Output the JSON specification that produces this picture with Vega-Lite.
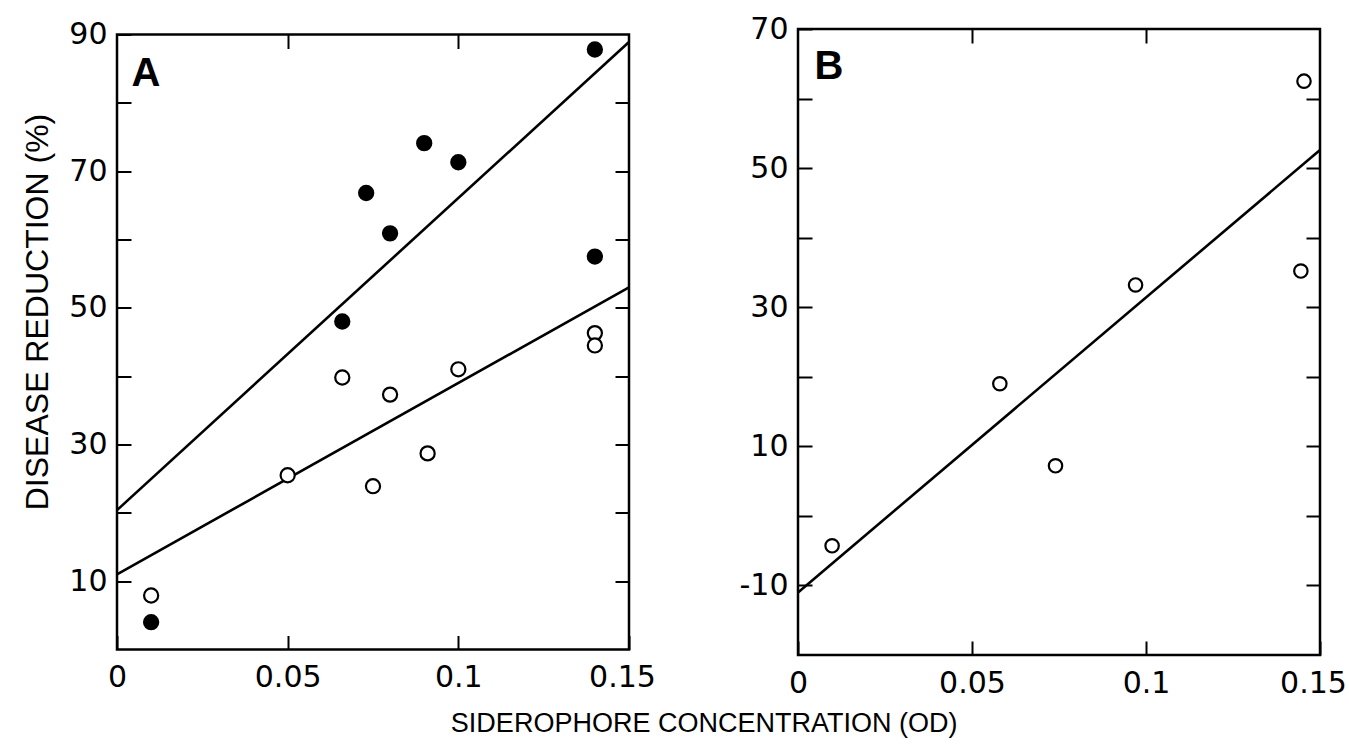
{
  "$schema": "https://vega.github.io/schema/vega-lite/v6.json",
  "background": "white",
  "padding": {"left": 20, "top": 12, "right": 0, "bottom": 8},
  "bounds": "flush",
  "center": true,
  "spacing": 169,
  "title": {"text": "SIDEROPHORE CONCENTRATION (OD)", "orient": "bottom", "anchor": "middle", "font": "Liberation Sans", "fontSize": 27, "fontWeight": "normal", "color": "black", "offset": 12, "dx": 20},
  "datasets": {
    "pointsA": [
      {"od": 0.01, "reduction": 4.0, "treatment": "filled"},
      {"od": 0.066, "reduction": 48.0, "treatment": "filled"},
      {"od": 0.073, "reduction": 66.8, "treatment": "filled"},
      {"od": 0.080, "reduction": 60.9, "treatment": "filled"},
      {"od": 0.090, "reduction": 74.1, "treatment": "filled"},
      {"od": 0.100, "reduction": 71.3, "treatment": "filled"},
      {"od": 0.140, "reduction": 87.8, "treatment": "filled"},
      {"od": 0.140, "reduction": 57.5, "treatment": "filled"},
      {"od": 0.01, "reduction": 7.9, "treatment": "open"},
      {"od": 0.050, "reduction": 25.5, "treatment": "open"},
      {"od": 0.066, "reduction": 39.8, "treatment": "open"},
      {"od": 0.075, "reduction": 23.9, "treatment": "open"},
      {"od": 0.080, "reduction": 37.3, "treatment": "open"},
      {"od": 0.091, "reduction": 28.7, "treatment": "open"},
      {"od": 0.100, "reduction": 41.0, "treatment": "open"},
      {"od": 0.140, "reduction": 46.3, "treatment": "open"},
      {"od": 0.140, "reduction": 44.5, "treatment": "open"}
    ],
    "linesA": [
      {"od": 0, "reduction": 20.4, "line": "filled"},
      {"od": 0.15, "reduction": 88.9, "line": "filled"},
      {"od": 0, "reduction": 11.0, "line": "open"},
      {"od": 0.15, "reduction": 53.0, "line": "open"}
    ],
    "pointsB": [
      {"od": 0.0098, "reduction": -4.3, "treatment": "open"},
      {"od": 0.058, "reduction": 19.0, "treatment": "open"},
      {"od": 0.074, "reduction": 7.2, "treatment": "open"},
      {"od": 0.097, "reduction": 33.2, "treatment": "open"},
      {"od": 0.1454, "reduction": 62.5, "treatment": "open"},
      {"od": 0.1445, "reduction": 35.2, "treatment": "open"}
    ],
    "linesB": [
      {"od": 0, "reduction": -11.0, "line": "fit"},
      {"od": 0.15, "reduction": 52.6, "line": "fit"}
    ],
    "panelLabels": [
      {"panel": "A", "od": 0.0085, "reduction": 84.2},
      {"panel": "B", "od": 0.0089, "reduction": 64.5}
    ]
  },
  "config": {
    "view": {"stroke": "black", "strokeWidth": 2.5},
    "axis": {
      "domain": false,
      "grid": false,
      "ticks": true,
      "tickSize": -14,
      "tickWidth": 2,
      "tickColor": "black",
      "labelFont": "DejaVu Sans",
      "labelFontSize": 30,
      "labelColor": "black",
      "labelPadding": 24,
      "labelOverlap": false,
      "labelFlush": false,
      "titleFont": "Liberation Sans",
      "titleFontSize": 32,
      "titleFontWeight": "normal",
      "titleColor": "black"
    }
  },
  "hconcat": [
    {
      "width": 512,
      "height": 615,
      "layer": [
        {
          "data": {"name": "linesA"},
          "mark": {"type": "line", "color": "black", "strokeWidth": 2.6},
          "encoding": {
            "x": {"field": "od", "type": "quantitative", "scale": {"domain": [0, 0.15], "nice": false, "zero": false},
                  "axis": {"orient": "bottom", "values": [0, 0.05, 0.1, 0.15], "labelPadding": 27, "labelExpr": "datum.value == 0 ? '0' : format(datum.value, '.2~f')", "labelOffset": {"condition": {"test": "datum.value > 0.12", "value": -7}, "value": 0}, "title": null}},
            "y": {"field": "reduction", "type": "quantitative", "scale": {"domain": [0, 90], "nice": false, "zero": false},
                  "axis": {"orient": "left", "values": [10, 20, 30, 40, 50, 60, 70, 80, 90], "labelExpr": "datum.value % 20 == 10 ? datum.label : ''", "title": "DISEASE REDUCTION (%)", "titleY": 277, "titlePadding": 14}},
            "detail": {"field": "line", "type": "nominal"}
          }
        },
        {
          "data": {"name": "pointsA"},
          "mark": {"type": "circle", "size": 200, "stroke": "black", "strokeWidth": 2.2, "opacity": 1},
          "encoding": {
            "x": {"field": "od", "type": "quantitative", "axis": {"orient": "top", "values": [0.05, 0.1], "labels": false, "title": null}},
            "y": {"field": "reduction", "type": "quantitative", "axis": {"orient": "right", "values": [10, 20, 30, 40, 50, 60, 70, 80], "labels": false, "title": null}},
            "fill": {"field": "treatment", "type": "nominal", "scale": {"domain": ["filled", "open"], "range": ["black", "white"]}, "legend": null}
          }
        },
        {
          "data": {"name": "panelLabels"},
          "transform": [{"filter": "datum.panel == 'A'"}],
          "mark": {"type": "text", "font": "Liberation Sans", "fontWeight": "bold", "fontSize": 40, "color": "black", "align": "center", "baseline": "middle"},
          "encoding": {
            "x": {"field": "od", "type": "quantitative", "axis": null},
            "y": {"field": "reduction", "type": "quantitative", "axis": null},
            "text": {"field": "panel"}
          }
        }
      ],
      "resolve": {"axis": {"x": "independent", "y": "independent"}}
    },
    {
      "width": 522,
      "height": 626,
      "layer": [
        {
          "data": {"name": "linesB"},
          "mark": {"type": "line", "color": "black", "strokeWidth": 2.6},
          "encoding": {
            "x": {"field": "od", "type": "quantitative", "scale": {"domain": [0, 0.15], "nice": false, "zero": false},
                  "axis": {"orient": "bottom", "values": [0, 0.05, 0.1, 0.15], "labelPadding": 27, "labelExpr": "datum.value == 0 ? '0' : format(datum.value, '.2~f')", "labelOffset": {"condition": {"test": "datum.value > 0.12", "value": -7}, "value": 0}, "title": null}},
            "y": {"field": "reduction", "type": "quantitative", "scale": {"domain": [-20, 70], "nice": false, "zero": false},
                  "axis": {"orient": "left", "values": [-10, 0, 10, 20, 30, 40, 50, 60, 70], "labelExpr": "(datum.value + 30) % 20 == 0 ? '' + datum.value : ''", "title": null}},
            "detail": {"field": "line", "type": "nominal"}
          }
        },
        {
          "data": {"name": "pointsB"},
          "mark": {"type": "circle", "size": 180, "stroke": "black", "strokeWidth": 2.2, "opacity": 1, "fill": "white"},
          "encoding": {
            "x": {"field": "od", "type": "quantitative", "axis": {"orient": "top", "values": [0.05, 0.1], "labels": false, "title": null}},
            "y": {"field": "reduction", "type": "quantitative", "axis": {"orient": "right", "values": [-10, 0, 10, 20, 30, 40, 50, 60], "labels": false, "title": null}}
          }
        },
        {
          "data": {"name": "panelLabels"},
          "transform": [{"filter": "datum.panel == 'B'"}],
          "mark": {"type": "text", "font": "Liberation Sans", "fontWeight": "bold", "fontSize": 40, "color": "black", "align": "center", "baseline": "middle"},
          "encoding": {
            "x": {"field": "od", "type": "quantitative", "axis": null},
            "y": {"field": "reduction", "type": "quantitative", "axis": null},
            "text": {"field": "panel"}
          }
        }
      ],
      "resolve": {"axis": {"x": "independent", "y": "independent"}}
    }
  ]
}
